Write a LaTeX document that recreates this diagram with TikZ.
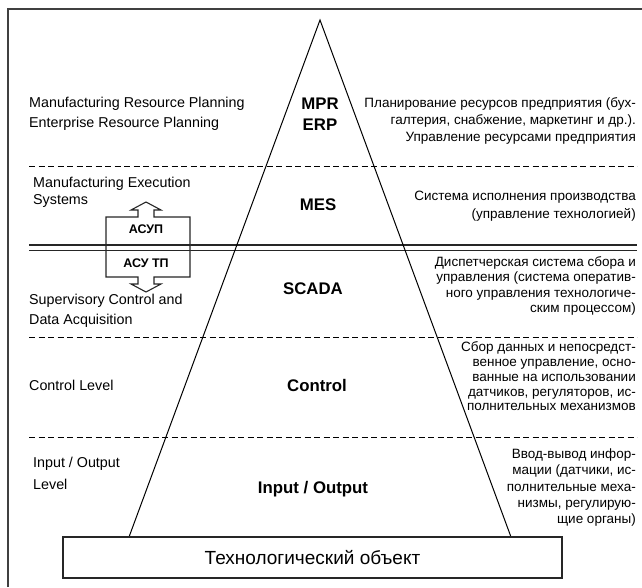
\documentclass[tikz,border=0pt]{standalone}
\usepackage{fontspec}
\setmainfont{Liberation Sans}
\begin{document}
\begin{tikzpicture}[x=1pt,y=-1pt,
  lefttxt/.style={anchor=west,inner sep=0pt,align=left,font=\fontsize{14.3}{20}\selectfont},
  righttxt/.style={anchor=east,inner sep=0pt,align=right},
  lvl/.style={inner sep=0pt,font=\fontsize{16.8}{21}\selectfont\bfseries},
  sep/.style={line width=1pt,dash pattern=on 6pt off 3.5pt},
  edge/.style={line width=1pt},
  box/.style={line width=1.2pt,draw=black!85}]
\useasboundingbox (0,0) rectangle (642,587);
% frame
\draw[line width=1.2pt,black!75] (8,587) -- (8,9) -- (642,9);
% separators
\coordinate (s1a) at (29,166); \coordinate (s1b) at (637,166);
\coordinate (s2a) at (29,337); \coordinate (s2b) at (637,337);
\coordinate (s3a) at (29,437); \coordinate (s3b) at (637,437);
\coordinate (d1a) at (29,245); \coordinate (d1b) at (637,245);
\coordinate (d2a) at (29,250.5); \coordinate (d2b) at (637,250.5);
\draw[sep] (s1a) -- (s1b);
\draw[sep] (s2a) -- (s2b);
\draw[sep] (s3a) -- (s3b);
\draw[line width=1.7pt,black!85] (d1a) -- (d1b);
\draw[line width=1.7pt,black!85] (d2a) -- (d2b);
% pyramid
\coordinate (apex) at (320,20);
\coordinate (footl) at (129,537);
\coordinate (footr) at (511,537);
\draw[edge] (footl) -- (apex) -- (footr);
% base object
\node[box,draw,minimum width=499pt,minimum height=41pt,inner sep=0pt,
  font=\fontsize{19}{22}\selectfont] (obj) at (312.5,557.5) {Технологический объект};
% level names
\node[lvl] (mpr) at (320,104) {MPR};
\node[lvl] (erp) at (320,124.5) {ERP};
\node[lvl] (mes) at (318,205) {MES};
\node[lvl] (scada) at (313,289) {SCADA};
\node[lvl] (ctrl) at (317,385) {Control};
\node[lvl] (io) at (313,489) {Input / Output};
% left texts
\node[lefttxt] (l1) at (29,104) {Manufacturing Resource Planning};
\node[lefttxt] (l1b) at (29,124) {Enterprise Resource Planning};
\node[lefttxt] (l2) at (33,184) {Manufacturing Execution};
\node[lefttxt] (l2b) at (33,201) {Systems};
\node[lefttxt] (l3) at (29,301) {Supervisory Control and};
\node[lefttxt] (l3b) at (29,321) {Data Acquisition};
\node[lefttxt] (l4) at (29,385) {Control Level};
\node[lefttxt] (l5) at (33,464) {Input / Output};
\node[lefttxt] (l5b) at (33,484) {Level};
% right texts
\node[righttxt,font=\fontsize{13.5}{17}\selectfont] (r1) at (636,121)
  {Планирование ресурсов предприятия (бух-\\галтерия, снабжение, маркетинг и др.).\\Управление ресурсами предприятия};
\node[righttxt,font=\fontsize{13.5}{18}\selectfont] (r2) at (636,206)
  {Система исполнения производства\\(управление технологией)};
\node[righttxt,font=\fontsize{13.5}{15.3}\selectfont] (r3) at (636,286)
  {Диспетчерская система сбора и\\управления (система оператив-\\ного управления технологиче-\\ским процессом)};
\node[righttxt,font=\fontsize{13.5}{14.8}\selectfont] (r4) at (636,376.5)
  {Сбор данных и непосредст-\\венное управление, осно-\\ванные на использовании\\датчиков, регуляторов, ис-\\полнительных механизмов};
\node[righttxt,font=\fontsize{13.5}{16.2}\selectfont] (r5) at (636,487.5)
  {Ввод-вывод инфор-\\мации (датчики, ис-\\полнительные меха-\\низмы, регулирую-\\щие органы)};
% double block arrow
\draw[line width=1.1pt,black!85,fill=white]
  (146,202) -- (161,210) -- (154,210) -- (154,217) -- (190,217) -- (190,277)
  -- (154,277) -- (154,284) -- (161,284) -- (146,292) -- (131,284) -- (138,284)
  -- (138,277) -- (106,277) -- (106,217) -- (138,217) -- (138,210) -- (131,210) -- cycle;
\draw[line width=1.7pt,black!85] (106,245) -- (190,245);
\draw[line width=1.7pt,black!85] (106,250.5) -- (190,250.5);
\node[inner sep=0pt,font=\fontsize{12.5}{15}\selectfont\bfseries] (asup) at (146,229) {АСУП};
\node[inner sep=0pt,font=\fontsize{12.5}{15}\selectfont\bfseries] (asutp) at (146,263) {АСУ ТП};
\end{tikzpicture}
\end{document}
